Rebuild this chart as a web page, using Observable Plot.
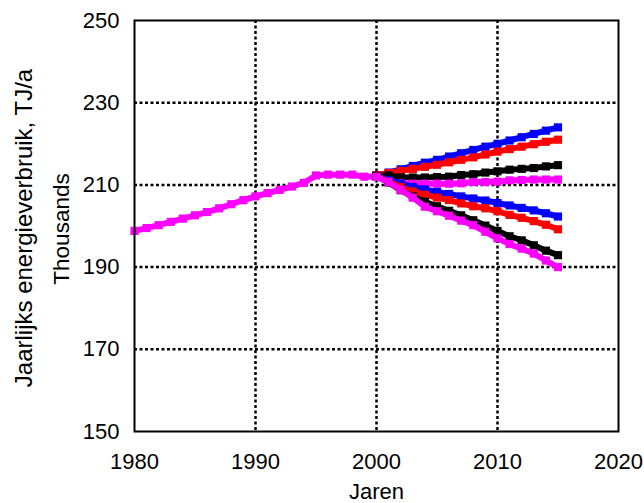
<!DOCTYPE html>
<html>
<head>
<meta charset="utf-8">
<script src="https://cdn.jsdelivr.net/npm/d3@7"></script>
<script src="https://cdn.jsdelivr.net/npm/@observablehq/plot@0.6"></script>
<style>
  html, body { margin: 0; padding: 0; background: #fff; }
  #chart svg { display: block; }
</style>
</head>
<body>
<div id="chart"></div>
<script>
// Historic series (magenta), 1980-2000, thousands TJ/a
const histYears = [1980,1981,1982,1983,1984,1985,1986,1987,1988,1989,1990,1991,1992,1993,1994,1995,1996,1997,1998,1999,2000];
const histValues = [198.8,199.5,200.2,201.0,201.8,202.6,203.4,204.3,205.3,206.3,207.2,208.0,208.8,209.6,210.5,212.3,212.5,212.5,212.5,212.0,212.0];

// Scenario years 2000-2015
const scenYears = [2000,2001,2002,2003,2004,2005,2006,2007,2008,2009,2010,2011,2012,2013,2014,2015];

const blueUp     = [212.2,213.0,213.8,214.6,215.4,216.1,216.9,217.7,218.5,219.3,220.0,220.8,221.6,222.4,223.2,224.0];
const redUp      = [212.3,212.9,213.4,213.9,214.4,214.9,215.5,216.1,216.7,217.4,218.1,218.7,219.3,219.9,220.5,221.0];
const blackUp    = [212.2,212.3,211.8,211.8,211.8,211.9,212.0,212.4,212.6,213.0,213.3,213.7,213.9,214.1,214.5,214.8];
const magentaUp  = [212.0,210.8,210.4,210.3,210.3,210.3,210.3,210.4,210.7,210.7,210.8,211.1,211.2,211.3,211.3,211.3];
const blueDown   = [212.2,211.2,210.3,209.5,208.9,208.3,207.8,207.2,206.7,206.2,205.6,205.0,204.4,203.8,203.1,202.3];
const redDown    = [212.3,210.8,209.5,208.4,207.6,206.9,206.3,205.5,204.8,204.3,203.6,202.7,202.0,201.2,200.3,199.2];
const blackDown  = [212.2,210.6,208.7,207.2,205.9,204.8,203.7,202.6,201.4,200.1,198.8,197.5,196.5,195.3,194.0,192.9];
const magentaDown= [212.0,210.7,208.8,206.9,204.7,203.6,202.5,201.3,200.2,198.6,197.0,195.6,194.5,193.3,191.6,190.0];

const xTicks = [1980,1990,2000,2010,2020];
const yTicks = [150,170,190,210,230,250];
const xGrid = [1990,2000,2010];
const yGrid = [170,190,210,230];

const yTitle = "Jaarlijks energieverbruik, TJ/a";
const yTitle2 = "Thousands";
const xTitle = "Jaren";

const series = [
  {name:"blueUp", color:"#0000ff", values: blueUp},
  {name:"redUp", color:"#ff0000", values: redUp},
  {name:"blackUp", color:"#000000", values: blackUp},
  {name:"magentaUp", color:"#ff00ff", values: magentaUp},
  {name:"blueDown", color:"#0000ff", values: blueDown},
  {name:"redDown", color:"#ff0000", values: redDown},
  {name:"blackDown", color:"#000000", values: blackDown},
  {name:"magentaDown", color:"#ff00ff", values: magentaDown}
];

const hist = histYears.map((y, i) => ({year: y, value: histValues[i]}));

const lineOpts = {x: "year", y: "value", strokeWidth: 6, strokeLinejoin: "miter", strokeLinecap: "butt"};
const dotOpts = {x: "year", y: "value", symbol: "square", r: 4.6};

const seriesMarks = [];
for (const s of series) {
  const rows = scenYears.map((y, i) => ({year: y, value: s.values[i]}));
  seriesMarks.push(Plot.line(rows, {...lineOpts, stroke: s.color}));
  seriesMarks.push(Plot.dot(rows, {...dotOpts, fill: s.color}));
}

const font = "'Liberation Sans', Arial, sans-serif";

const chart = Plot.plot({
  width: 644,
  height: 503,
  marginLeft: 134,
  marginRight: 26,
  marginTop: 20,
  marginBottom: 72,
  style: {fontFamily: font, fontSize: "22px", color: "#000", background: "#fff"},
  x: {domain: [1980, 2020]},
  y: {domain: [150, 250]},
  marks: [
    Plot.ruleX(xGrid, {stroke: "#000", strokeWidth: 2.5, strokeDasharray: "3,2.5"}),
    Plot.ruleY(yGrid, {stroke: "#000", strokeWidth: 2.5, strokeDasharray: "3,2.5"}),
    Plot.line(hist, {...lineOpts, stroke: "#ff00ff"}),
    Plot.dot(hist, {...dotOpts, fill: "#ff00ff"}),
    ...seriesMarks,
    Plot.frame({stroke: "#000", strokeWidth: 2}),
    Plot.axisX({ticks: xTicks, tickSize: 0, tickPadding: 22, tickFormat: d => String(d), fontSize: 22, label: null}),
    Plot.axisY({ticks: yTicks, tickSize: 0, tickPadding: 15, tickFormat: d => String(d), fontSize: 22, label: null}),
    Plot.text([yTitle], {frameAnchor: "left", dx: -110, dy: 2, rotate: -90, text: d => d, fontSize: 24, textAnchor: "middle", lineAnchor: "middle"}),
    Plot.text([yTitle2], {frameAnchor: "left", dx: -73, dy: 3, rotate: -90, text: d => d, fontSize: 22.5, textAnchor: "middle", lineAnchor: "middle"}),
    Plot.text([xTitle], {frameAnchor: "bottom", dy: 67, lineAnchor: "bottom", text: d => d, fontSize: 22})
  ]
});

document.getElementById("chart").appendChild(chart);
</script>
</body>
</html>
